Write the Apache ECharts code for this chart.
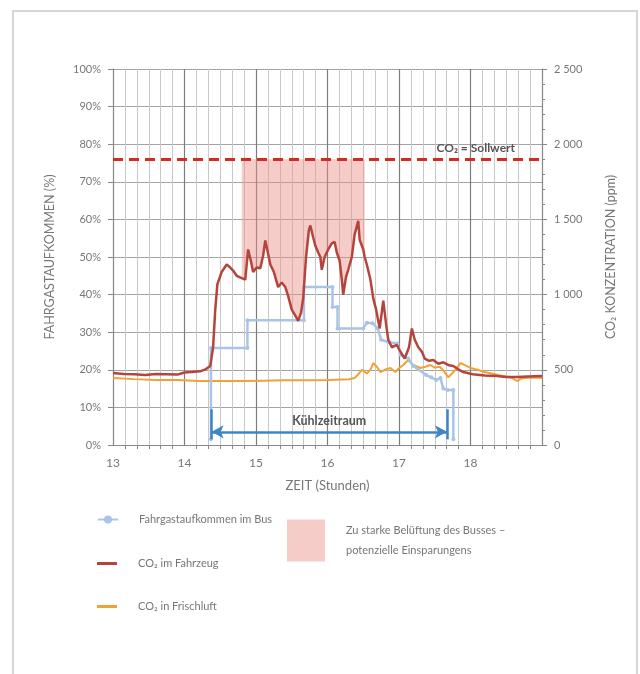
<!DOCTYPE html>
<html>
<head>
<meta charset="utf-8">
<script src="https://cdn.jsdelivr.net/npm/echarts@6/dist/echarts.min.js"></script>
<style>
  html, body { margin: 0; padding: 0; background: #fff; }
  #chart { width: 640px; height: 674px; }
</style>
</head>
<body>
<div id="chart"></div>
<script>
// Zeit in Stunden, CO2 in ppm, Fahrgastaufkommen in %
var co2Vehicle = [
  [13.0, 478], [13.15, 472], [13.3, 470], [13.45, 466], [13.6, 472], [13.75, 470], [13.9, 468],
  [14.0, 482], [14.1, 485], [14.22, 490], [14.3, 505], [14.36, 525], [14.40, 650], [14.43, 900],
  [14.46, 1070], [14.52, 1150], [14.59, 1200], [14.64, 1180], [14.68, 1160], [14.73, 1125],
  [14.80, 1110], [14.85, 1100], [14.89, 1300], [14.93, 1220], [14.96, 1150], [15.01, 1180],
  [15.06, 1175], [15.10, 1260], [15.13, 1360], [15.17, 1270], [15.20, 1200], [15.25, 1150],
  [15.31, 1050], [15.36, 1080], [15.41, 1050], [15.45, 990], [15.50, 900], [15.55, 860],
  [15.59, 825], [15.63, 880], [15.66, 975], [15.70, 1250], [15.74, 1430], [15.76, 1460],
  [15.80, 1380], [15.83, 1325], [15.87, 1280], [15.90, 1250], [15.92, 1165], [15.96, 1250],
  [16.01, 1300], [16.06, 1340], [16.10, 1350], [16.13, 1280], [16.17, 1225], [16.20, 1100],
  [16.22, 1000], [16.26, 1120], [16.29, 1165], [16.34, 1250], [16.38, 1400], [16.43, 1490],
  [16.45, 1365], [16.50, 1300], [16.52, 1250], [16.55, 1200], [16.60, 1100], [16.64, 975],
  [16.68, 900], [16.73, 775], [16.78, 960], [16.82, 800], [16.85, 700], [16.90, 650],
  [16.97, 665], [17.02, 620], [17.08, 575], [17.14, 650], [17.18, 775], [17.22, 700],
  [17.27, 650], [17.32, 620], [17.36, 575], [17.42, 560], [17.48, 565], [17.55, 540],
  [17.62, 550], [17.70, 530], [17.76, 525], [17.84, 500], [17.90, 485], [18.03, 470],
  [18.2, 462], [18.37, 458], [18.5, 452], [18.65, 452], [18.8, 455], [19.0, 458]
];

var co2Fresh = [
  [13.0, 445], [13.3, 438], [13.6, 432], [13.9, 432], [14.2, 425], [14.5, 425], [14.8, 425],
  [15.1, 428], [15.4, 430], [15.7, 430], [16.0, 432], [16.3, 437], [16.38, 445], [16.43, 470],
  [16.48, 500], [16.55, 475], [16.6, 500], [16.64, 545], [16.69, 520], [16.74, 485], [16.8, 500],
  [16.88, 512], [16.95, 485], [17.0, 510], [17.06, 532], [17.13, 565], [17.2, 532], [17.3, 512],
  [17.37, 520], [17.44, 532], [17.5, 515], [17.57, 520], [17.63, 490], [17.69, 450], [17.76, 485],
  [17.82, 520], [17.86, 545], [17.93, 530], [18.0, 512], [18.1, 500], [18.19, 485], [18.3, 475],
  [18.38, 465], [18.5, 455], [18.58, 445], [18.66, 425], [18.7, 440], [18.76, 445], [18.9, 448],
  [19.0, 445]
];

var passengers = [
  [14.37, 1.5], [14.37, 25.8], [14.88, 25.8], [14.88, 33.2], [15.67, 33.2], [15.67, 42],
  [16.07, 42], [16.07, 36.7], [16.14, 36.7], [16.14, 31], [16.5, 31], [16.55, 32.5],
  [16.63, 32.4], [16.7, 31], [16.75, 28], [16.85, 27.4], [16.98, 27], [17.02, 24],
  [17.13, 23], [17.2, 21], [17.38, 18.6], [17.45, 18], [17.52, 17.3], [17.58, 17.8],
  [17.62, 15], [17.68, 14.6], [17.76, 14.6], [17.76, 1.5]
];

var setpoint = 1900;          // CO2-Sollwert (ppm)
var savingsRange = [14.8, 16.52];
var coolingPeriod = [14.38, 17.67];
var hourTicks = [13, 14, 15, 16, 17, 18];

var savingsPts = co2Vehicle.filter(function (p) {
  return p[0] >= savingsRange[0] && p[0] <= savingsRange[1];
});

var font = 'Lato';
var gray = '#777';
var pink = 'rgba(235,143,134,0.45)';
var nameSavings = 'Zu starke Belüftung des Busses –\npotenzielle Einsparungens';

var myChart = echarts.init(document.getElementById('chart'));
myChart.setOption({
  backgroundColor: '#fff',
  textStyle: { fontFamily: font },
  animation: false,
  graphic: [{
    type: 'rect',
    shape: { x: 13, y: 11, width: 624, height: 700 },
    style: { fill: 'none', stroke: '#d6d6d6', lineWidth: 2 },
    silent: true
  }],
  grid: { left: 113, right: 98, top: 69, bottom: 229 },
  legend: [{
    data: ['Fahrgastaufkommen im Bus'],
    left: 97,
    top: 514,
    padding: 0,
    itemWidth: 20,
    itemHeight: 10,
    selectedMode: false,
    textStyle: { color: gray, fontSize: 11, fontFamily: font, padding: [0, 0, 0, 16] }
  }, {
    data: [
      { name: 'CO₂ im Fahrzeug', icon: 'rect' },
      { name: 'CO₂ in Frischluft', icon: 'rect' }
    ],
    orient: 'vertical',
    left: 97,
    top: 558,
    padding: 0,
    itemGap: 32,
    itemWidth: 20,
    itemHeight: 3,
    selectedMode: false,
    textStyle: { color: gray, fontSize: 11, fontFamily: font, padding: [0, 0, 0, 16] }
  }, {
    data: [nameSavings],
    icon: 'rect',
    left: 287,
    top: 518,
    padding: 0,
    itemWidth: 38,
    itemHeight: 42,
    selectedMode: false,
    textStyle: { color: gray, fontSize: 11, fontFamily: font, lineHeight: 20, padding: [5, 0, 0, 16] }
  }],
  xAxis: {
    type: 'value',
    min: 13,
    max: 19,
    interval: 1,
    name: 'ZEIT (Stunden)',
    nameLocation: 'middle',
    nameGap: 34,
    nameTextStyle: { color: gray, fontSize: 13, fontFamily: font },
    axisLine: { lineStyle: { color: '#888' } },
    axisTick: { show: false },
    minorTick: { show: true, splitNumber: 6, length: 4, lineStyle: { color: '#888' } },
    splitLine: { show: true, lineStyle: { color: '#7d7d7d', width: 1.2 } },
    minorSplitLine: { show: true, lineStyle: { color: '#c9c9c9' } },
    axisLabel: {
      color: gray, fontSize: 12, margin: 12,
      formatter: function (v) { return hourTicks.indexOf(v) >= 0 ? String(v) : ''; }
    }
  },
  yAxis: [{
    type: 'value',
    min: 0,
    max: 100,
    interval: 10,
    name: 'FAHRGASTAUFKOMMEN (%)',
    nameLocation: 'middle',
    nameRotate: 90,
    nameGap: 57,
    nameTextStyle: { color: gray, fontSize: 12.5, fontFamily: font },
    axisLine: { show: true, lineStyle: { color: '#888' } },
    axisTick: { show: true, length: 5, lineStyle: { color: '#888' } },
    splitLine: { lineStyle: { color: '#a3a3a3' } },
    axisLabel: { color: gray, fontSize: 11, margin: 12, formatter: '{value}%' }
  }, {
    type: 'value',
    min: 0,
    max: 2500,
    interval: 500,
    name: 'CO₂ KONZENTRATION (ppm)',
    nameLocation: 'middle',
    nameRotate: 90,
    nameGap: 62,
    nameTextStyle: { color: gray, fontSize: 12.5, fontFamily: font },
    axisLine: { show: true, lineStyle: { color: '#888' } },
    axisTick: { show: true, length: 5, lineStyle: { color: '#888' } },
    minorTick: { show: true, splitNumber: 5, length: 3, lineStyle: { color: '#888' } },
    splitLine: { show: false },
    axisLabel: {
      color: gray, fontSize: 11, margin: 12,
      formatter: function (v) { return String(v).replace(/\B(?=(\d{3})+(?!\d))/g, ' '); }
    }
  }],
  series: [{
    // Fläche zwischen Sollwert und CO2-Verlauf
    name: nameSavings,
    type: 'custom',
    yAxisIndex: 1,
    data: [[savingsRange[0], setpoint]],
    itemStyle: { color: pink },
    silent: true,
    clip: true,
    z: 1,
    renderItem: function (params, api) {
      var pts = savingsPts.map(function (p) { return api.coord([p[0], p[1]]); });
      pts.push(api.coord([savingsRange[1], setpoint]));
      pts.push(api.coord([savingsRange[0], setpoint]));
      return { type: 'polygon', shape: { points: pts }, style: { fill: pink } };
    }
  }, {
    name: 'CO₂ in Frischluft',
    type: 'line',
    yAxisIndex: 1,
    data: co2Fresh,
    symbol: 'none',
    color: '#f0a236',
    lineStyle: { color: '#f0a236', width: 2 },
    z: 3
  }, {
    name: 'Fahrgastaufkommen im Bus',
    type: 'line',
    yAxisIndex: 0,
    data: passengers,
    symbol: 'circle',
    symbolSize: 4,
    showSymbol: true,
    color: '#a9c4e6',
    itemStyle: { color: '#a9c4e6' },
    lineStyle: { color: '#a9c4e6', width: 2.5 },
    z: 4,
    markLine: {
      silent: true,
      animation: false,
      symbol: ['arrow', 'arrow'],
      symbolSize: [10, 12],
      lineStyle: { color: '#3d86c6', width: 2.5, type: 'solid' },
      label: {
        show: true,
        position: 'insideMiddleTop',
        formatter: 'Kühlzeitraum',
        color: '#555',
        fontWeight: 'bold',
        fontSize: 12.5,
        fontFamily: font,
        distance: 4
      },
      data: [
        [{ coord: [coolingPeriod[0], 3.5] }, { coord: [coolingPeriod[1], 3.5] }],
        [{ coord: [coolingPeriod[0], 1.5], symbol: 'none', label: { show: false } },
         { coord: [coolingPeriod[0], 9.5], symbol: 'none' }],
        [{ coord: [coolingPeriod[1], 1.5], symbol: 'none', label: { show: false } },
         { coord: [coolingPeriod[1], 9.5], symbol: 'none' }]
      ]
    }
  }, {
    name: 'CO₂ im Fahrzeug',
    type: 'line',
    yAxisIndex: 1,
    data: co2Vehicle,
    symbol: 'none',
    color: '#b5453c',
    lineStyle: { color: '#b5453c', width: 2.5 },
    z: 5,
    markLine: {
      silent: true,
      animation: false,
      symbol: 'none',
      lineStyle: { color: '#d8291f', width: 3, type: [10, 6] },
      label: {
        show: true,
        position: 'insideEndTop',
        formatter: 'CO₂ = Sollwert',
        color: '#555',
        fontWeight: 'bold',
        fontSize: 12,
        fontFamily: font,
        padding: [0, 22, 0, 0]
      },
      data: [{ yAxis: setpoint }]
    }
  }]
});
</script>
</body>
</html>
